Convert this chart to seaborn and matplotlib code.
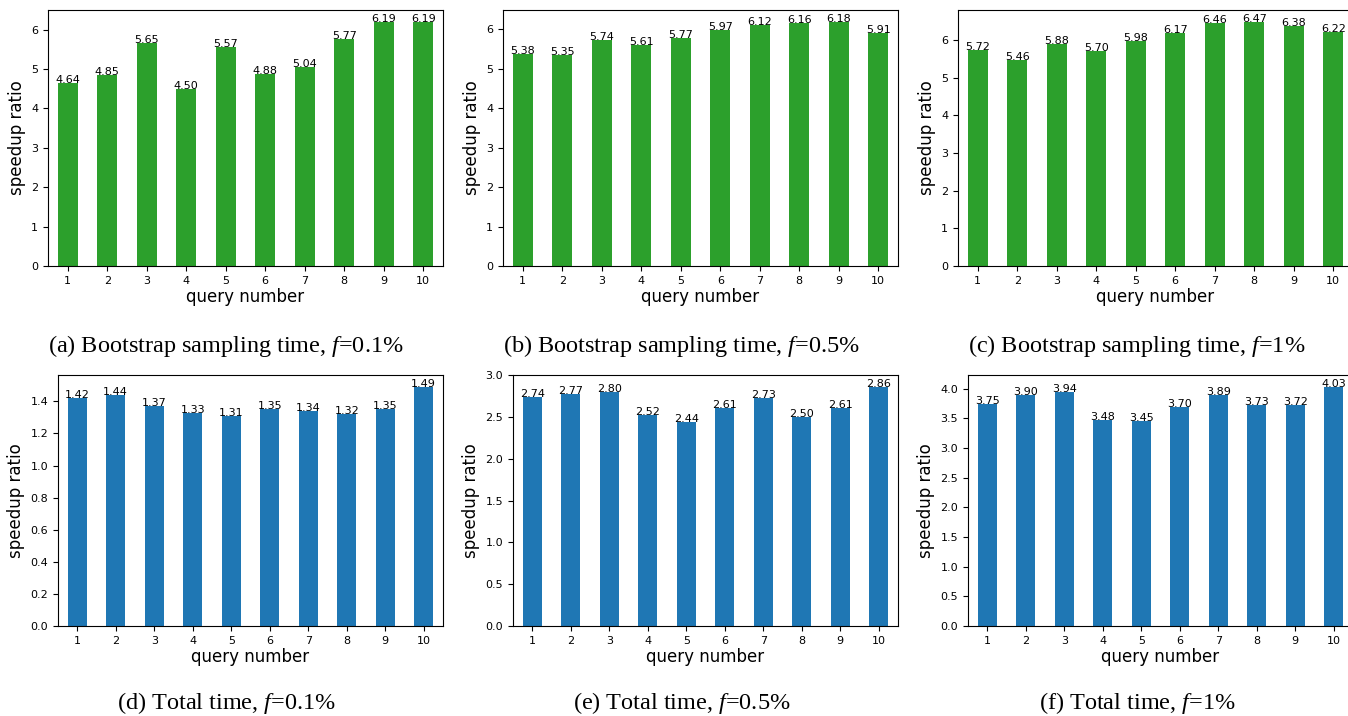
import matplotlib
matplotlib.use("Agg")
import matplotlib.pyplot as plt
import seaborn as sns

queries = [str(i) for i in range(1, 11)]

boot_01 = [4.64, 4.85, 5.65, 4.50, 5.57, 4.88, 5.04, 5.77, 6.19, 6.19]
boot_05 = [5.38, 5.35, 5.74, 5.61, 5.77, 5.97, 6.12, 6.16, 6.18, 5.91]
boot_1 = [5.72, 5.46, 5.88, 5.70, 5.98, 6.17, 6.46, 6.47, 6.38, 6.22]
total_01 = [1.42, 1.44, 1.37, 1.33, 1.31, 1.35, 1.34, 1.32, 1.35, 1.49]
total_05 = [2.74, 2.77, 2.80, 2.52, 2.44, 2.61, 2.73, 2.50, 2.61, 2.86]
total_1 = [3.75, 3.90, 3.94, 3.48, 3.45, 3.70, 3.89, 3.73, 3.72, 4.03]

captions = [
    r"(a) Bootstrap sampling time, $f$=0.1%",
    r"(b) Bootstrap sampling time, $f$=0.5%",
    r"(c) Bootstrap sampling time, $f$=1%",
    r"(d) Total time, $f$=0.1%",
    r"(e) Total time, $f$=0.5%",
    r"(f) Total time, $f$=1%",
]

plt.rcParams["mathtext.fontset"] = "custom"
plt.rcParams["mathtext.rm"] = "Liberation Serif"
plt.rcParams["mathtext.it"] = "Liberation Serif:italic"

W, H = 1348, 716
fig = plt.figure(figsize=(W / 100, H / 100), dpi=100)

# axes boxes in pixels: left, top, right, bottom
boxes = [
    (48, 10, 443, 266), (503, 10, 898, 266), (958, 10, 1353, 266),
    (58, 375, 443, 626), (513, 375, 898, 626), (968, 375, 1353, 626),
]
series = [boot_01, boot_05, boot_1, total_01, total_05, total_1]
colors = ["#2ca02c"] * 3 + ["#1f77b4"] * 3
cap_x = [226, 681.5, 1137] * 2
cap_y = [346] * 3 + [703] * 3

for i, (box, vals) in enumerate(zip(boxes, series)):
    l, t, r, b = box
    ax = fig.add_axes([l / W, 1 - b / H, (r - l) / W, (b - t) / H])
    sns.barplot(x=queries, y=vals, color=colors[i], width=0.5,
                saturation=1, ax=ax)
    for p in ax.patches:
        h = p.get_height()
        ax.text(p.get_x() + p.get_width() / 2, h, f"{h:.2f}",
                ha="center", va="baseline", fontsize=8)
    ax.set_xlim(-0.5, 9.5)
    ax.set_ylim(0, max(vals) * 1.05)
    ax.set_xlabel("query number", fontsize=12, labelpad=2)
    ax.set_ylabel("speedup ratio", fontsize=12)
    ax.tick_params(labelsize=8)
    fig.text(cap_x[i] / W, 1 - cap_y[i] / H, captions[i],
             ha="center", va="center", fontsize=17.5,
             family="Liberation Serif")

fig.savefig("out.png", dpi=100)
